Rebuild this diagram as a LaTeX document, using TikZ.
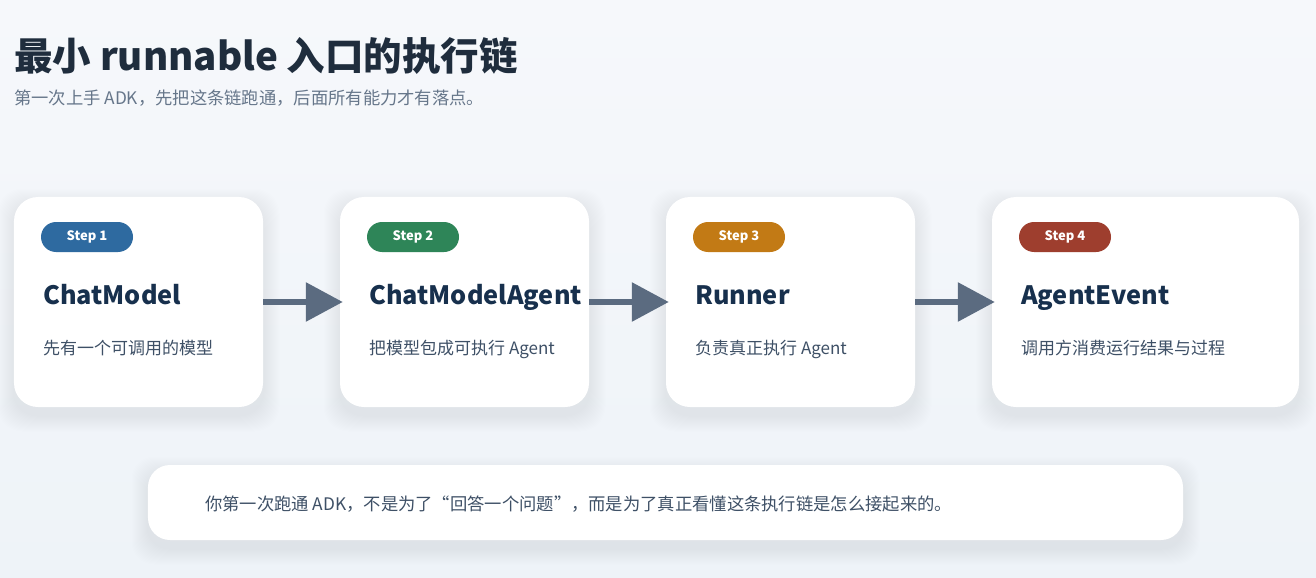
\documentclass[tikz,border=0pt]{standalone}
\usepackage{fontspec}
\setmainfont{Noto Sans CJK SC}
\usetikzlibrary{arrows.meta}
\definecolor{bgtop}{HTML}{F6F8FB}
\definecolor{bgbot}{HTML}{EEF3F8}
\definecolor{titlec}{HTML}{1F2D3D}
\definecolor{subc}{HTML}{66768A}
\definecolor{headc}{HTML}{17304D}
\definecolor{descc}{HTML}{3E5066}
\definecolor{arrowc}{HTML}{5B6B80}
\definecolor{sa}{HTML}{2E6AA0}
\definecolor{sb}{HTML}{2E8558}
\definecolor{sc}{HTML}{C27A15}
\definecolor{sd}{HTML}{9E3E2E}
\definecolor{shadowc}{HTML}{C8D6E6}
\newcommand\softshadow[5]{%
  \foreach \i in {1,...,16}{%
    \fill[shadowc,opacity=0.02,rounded corners=#5] (#1-\i,#2-\i+8) rectangle (#3+\i,#4+\i+8);}}
\tikzset{
  card/.style={fill=white, rounded corners=24bp, inner sep=0pt, minimum height=210bp},
  pill/.style={text=white, rounded corners=15bp, minimum width=92bp, minimum height=30bp, inner sep=0pt, font=\fontsize{13bp}{15bp}\selectfont\bfseries},
  head/.style={anchor=base west, inner sep=0pt, text=headc, font=\fontsize{25.3bp}{30bp}\selectfont\bfseries},
  desc/.style={anchor=base west, inner sep=0pt, text=descc, font=\fontsize{17bp}{20bp}\selectfont},
  flow/.style={draw=arrowc, line width=6bp, -{Triangle[length=37bp,width=38bp]}, shorten >=-3bp},
}
\begin{document}
\begin{tikzpicture}[x=1bp,y=-1bp]
\useasboundingbox (0,0) rectangle (1316,578);
\shade[top color=bgtop,bottom color=bgbot] (0,0) rectangle (1316,578);
% title
\node[anchor=base west, inner sep=0pt, text=titlec, font=\fontsize{38.5bp}{44bp}\selectfont\bfseries] (title) at (14,71) {最小 runnable 入口的执行链};
\node[anchor=base west, inner sep=0pt, text=subc, font=\fontsize{17.3bp}{20bp}\selectfont] (subtitle) at (14,105) {第一次上手 ADK，先把这条链跑通，后面所有能力才有落点。};
% shadows
\softshadow{14}{197}{263}{407}{24bp}
\softshadow{340}{197}{589}{407}{24bp}
\softshadow{666}{197}{915}{407}{24bp}
\softshadow{992}{197}{1299}{407}{24bp}
\softshadow{148}{465}{1183}{540}{22bp}
% cards
\node[card, minimum width=249bp] (c1) at (138.5,302) {};
\node[card, minimum width=249bp] (c2) at (464.5,302) {};
\node[card, minimum width=249bp] (c3) at (790.5,302) {};
\node[card, minimum width=307bp] (c4) at (1145.5,302) {};
% pills
\node[pill, fill=sa] (p1) at (87,237) {Step 1};
\node[pill, fill=sb] (p2) at (413,237) {Step 2};
\node[pill, fill=sc] (p3) at (739,237) {Step 3};
\node[pill, fill=sd] (p4) at (1065,237) {Step 4};
% headings
\node[head] (h1) at (43,304) {ChatModel};
\node[head] (h2) at (369,304) {ChatModelAgent};
\node[head] (h3) at (695,304) {Runner};
\node[head] (h4) at (1021,304) {AgentEvent};
% descriptions
\node[desc] (d1) at (43,354) {先有一个可调用的模型};
\node[desc] (d2) at (369,354) {把模型包成可执行 Agent};
\node[desc] (d3) at (695,354) {负责真正执行 Agent};
\node[desc] (d4) at (1021,354) {调用方消费运行结果与过程};
% arrows
\draw[flow] (c1.east) -- (c2.west);
\draw[flow] (c2.east) -- (c3.west);
\draw[flow] (c3.east) -- (c4.west);
% note
\node[fill=white, rounded corners=22bp, minimum width=1035bp, minimum height=75bp, inner sep=0pt] (note) at (665.5,502.5) {};
\node[desc, font=\fontsize{17.3bp}{20bp}\selectfont] (notetext) at (205,510) {你第一次跑通 ADK，不是为了“回答一个问题”，而是为了真正看懂这条执行链是怎么接起来的。};
\end{tikzpicture}
\end{document}
